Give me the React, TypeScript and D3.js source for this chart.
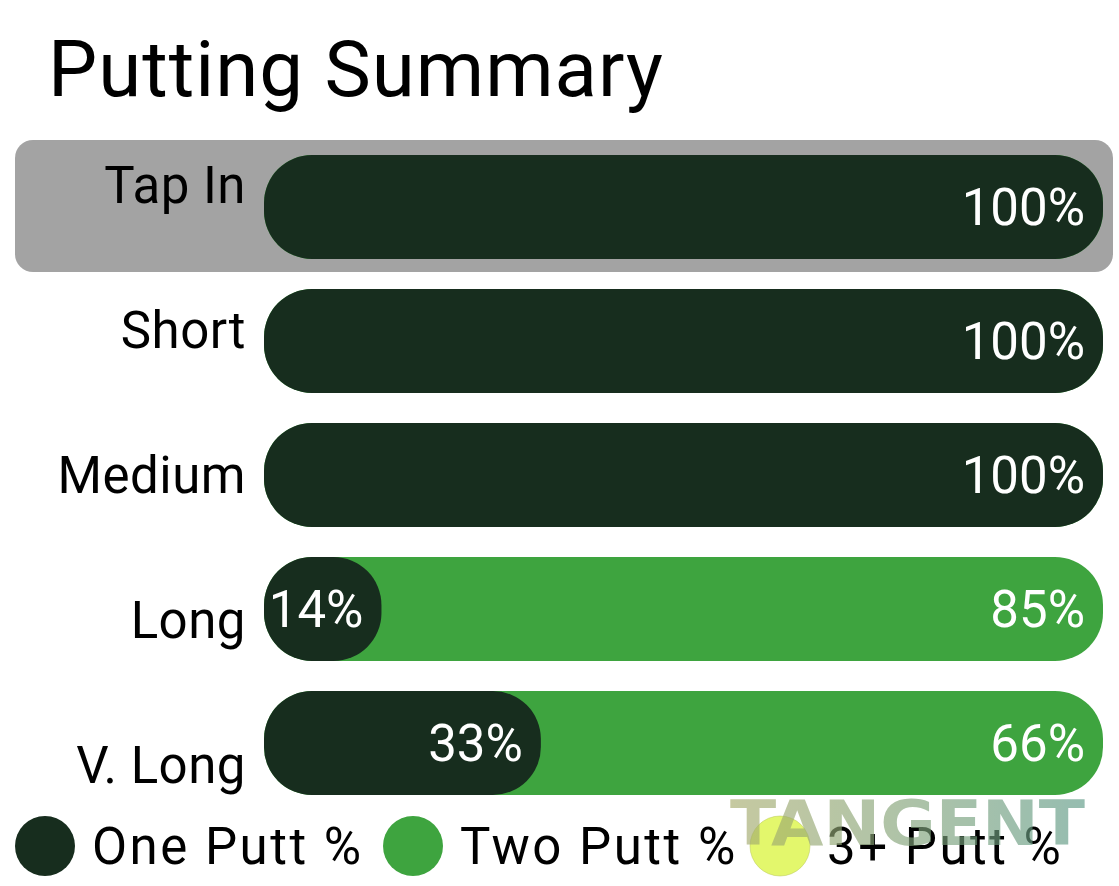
import React, { useEffect, useRef } from "react";
import * as d3 from "d3";

const categories = ["Tap In", "Short", "Medium", "Long", "V. Long"];
const onePutt = [100, 100, 100, 14, 33];
const twoPutt = [0, 0, 0, 85, 66];
const threePutt = [0, 0, 0, 0, 0];
const selected = "Tap In";

const legendLabels = ["One Putt %", "Two Putt %", "3+ Putt %"];
const legendColors = ["#172d1e", "#3ea43f", "#e3f76c"];

const App: React.FC = () => {
  const svgRef = useRef<SVGSVGElement | null>(null);

  useEffect(() => {
    if (!svgRef.current) return;
    const svg = d3.select(svgRef.current);
    svg.selectAll("*").remove();

    const width = 1119;
    const height = 886;
    const font = "Roboto, 'Noto Sans', sans-serif";
    svg.attr("width", width).attr("height", height);

    const rows = categories.map((c, i) => ({
      cat: c,
      one: onePutt[i],
      two: twoPutt[i],
      three: threePutt[i],
    }));

    const x = d3.scaleLinear().domain([0, 100]).range([264, 1103]);
    const y = d3
      .scaleBand<string>()
      .domain(categories)
      .range([155, 795])
      .paddingInner(30 / 134)
      .paddingOuter(0);
    // the category labels sit on their own (slightly looser) spacing
    const yLabel = d3.scalePoint<string>().domain(categories).range([203, 783]);

    svg
      .append("text")
      .attr("x", 48)
      .attr("y", 96)
      .attr("font-family", font)
      .attr("font-size", 78)
      .attr("letter-spacing", 1)
      .attr("fill", "#000")
      .text("Putting Summary");

    // highlight of selected row
    svg
      .append("rect")
      .attr("x", 15)
      .attr("y", y(selected)! - 15)
      .attr("width", 1113 - 15)
      .attr("height", y.bandwidth() + 28)
      .attr("rx", 18)
      .attr("fill", "#a3a3a3");

    const r = 48;
    const g = svg.append("g");

    // two putt (stack behind)
    g.selectAll("rect.two")
      .data(rows)
      .enter()
      .append("rect")
      .attr("class", "two")
      .attr("x", x(0))
      .attr("y", (d) => y(d.cat)!)
      .attr("width", (d) => x(Math.max(100, d.one + d.two)) - x(0))
      .attr("height", y.bandwidth())
      .attr("rx", r)
      .attr("fill", legendColors[1]);

    g.selectAll("rect.one")
      .data(rows)
      .enter()
      .append("rect")
      .attr("class", "one")
      .attr("x", x(0))
      .attr("y", (d) => y(d.cat)!)
      .attr("width", (d) => x(d.one) - x(0))
      .attr("height", y.bandwidth())
      .attr("rx", (d) => Math.min(r, (x(d.one) - x(0)) / 2))
      .attr("fill", legendColors[0]);

    g.selectAll("text.one")
      .data(rows)
      .enter()
      .append("text")
      .attr("class", "one")
      .attr("x", (d) => x(d.one) - 18)
      .attr("y", (d) => y(d.cat)! + y.bandwidth() / 2 + 18)
      .attr("text-anchor", "end")
      .attr("font-family", font)
      .attr("font-size", 51)
      .attr("fill", "#fff")
      .text((d) => `${d.one}%`);

    g.selectAll("text.two")
      .data(rows.filter((d) => d.two > 0))
      .enter()
      .append("text")
      .attr("class", "two")
      .attr("x", x(100) - 18)
      .attr("y", (d) => y(d.cat)! + y.bandwidth() / 2 + 18)
      .attr("text-anchor", "end")
      .attr("font-family", font)
      .attr("font-size", 51)
      .attr("fill", "#fff")
      .text((d) => `${d.two}%`);

    svg
      .append("g")
      .selectAll("text")
      .data(categories)
      .enter()
      .append("text")
      .attr("x", 246)
      .attr("y", (d) => yLabel(d)!)
      .attr("text-anchor", "end")
      .attr("font-family", font)
      .attr("font-size", 51)
      .attr("letter-spacing", 0.5)
      .attr("fill", "#000")
      .text((d) => d);

    // legend
    const legendX = [45, 413, 780];
    const lg = svg.append("g");
    legendLabels.forEach((label, i) => {
      lg.append("circle")
        .attr("cx", legendX[i])
        .attr("cy", 846)
        .attr("r", 30)
        .attr("fill", legendColors[i])
        .attr("stroke", i === 2 ? "#b9c65a" : "none")
        .attr("stroke-width", 0.5);
      lg.append("text")
        .attr("x", legendX[i] + 47)
        .attr("y", 864)
        .attr("font-family", font)
        .attr("font-size", 51)
        .attr("letter-spacing", 2.5)
        .attr("fill", "#000")
        .text(label);
    });

    // watermark
    const defs = svg.append("defs");
    const grad = defs
      .append("linearGradient")
      .attr("id", "wm")
      .attr("x1", "0%")
      .attr("x2", "100%");
    grad.append("stop").attr("offset", "0%").attr("stop-color", "#a8ad6e");
    grad.append("stop").attr("offset", "100%").attr("stop-color", "#5e9a86");
    svg
      .append("text")
      .attr("x", 730)
      .attr("y", 845)
      .attr("font-family", "'DejaVu Sans', sans-serif")
      .attr("font-weight", "bold")
      .attr("font-size", 62)
      .attr("textLength", 355)
      .attr("lengthAdjust", "spacingAndGlyphs")
      .attr("fill", "url(#wm)")
      .attr("opacity", 0.65)
      .text("TANGENT");
  }, []);

  return (
    <svg
      ref={svgRef}
      style={{ position: "absolute", left: 0, top: 0, display: "block" }}
    ></svg>
  );
};

export default App;
